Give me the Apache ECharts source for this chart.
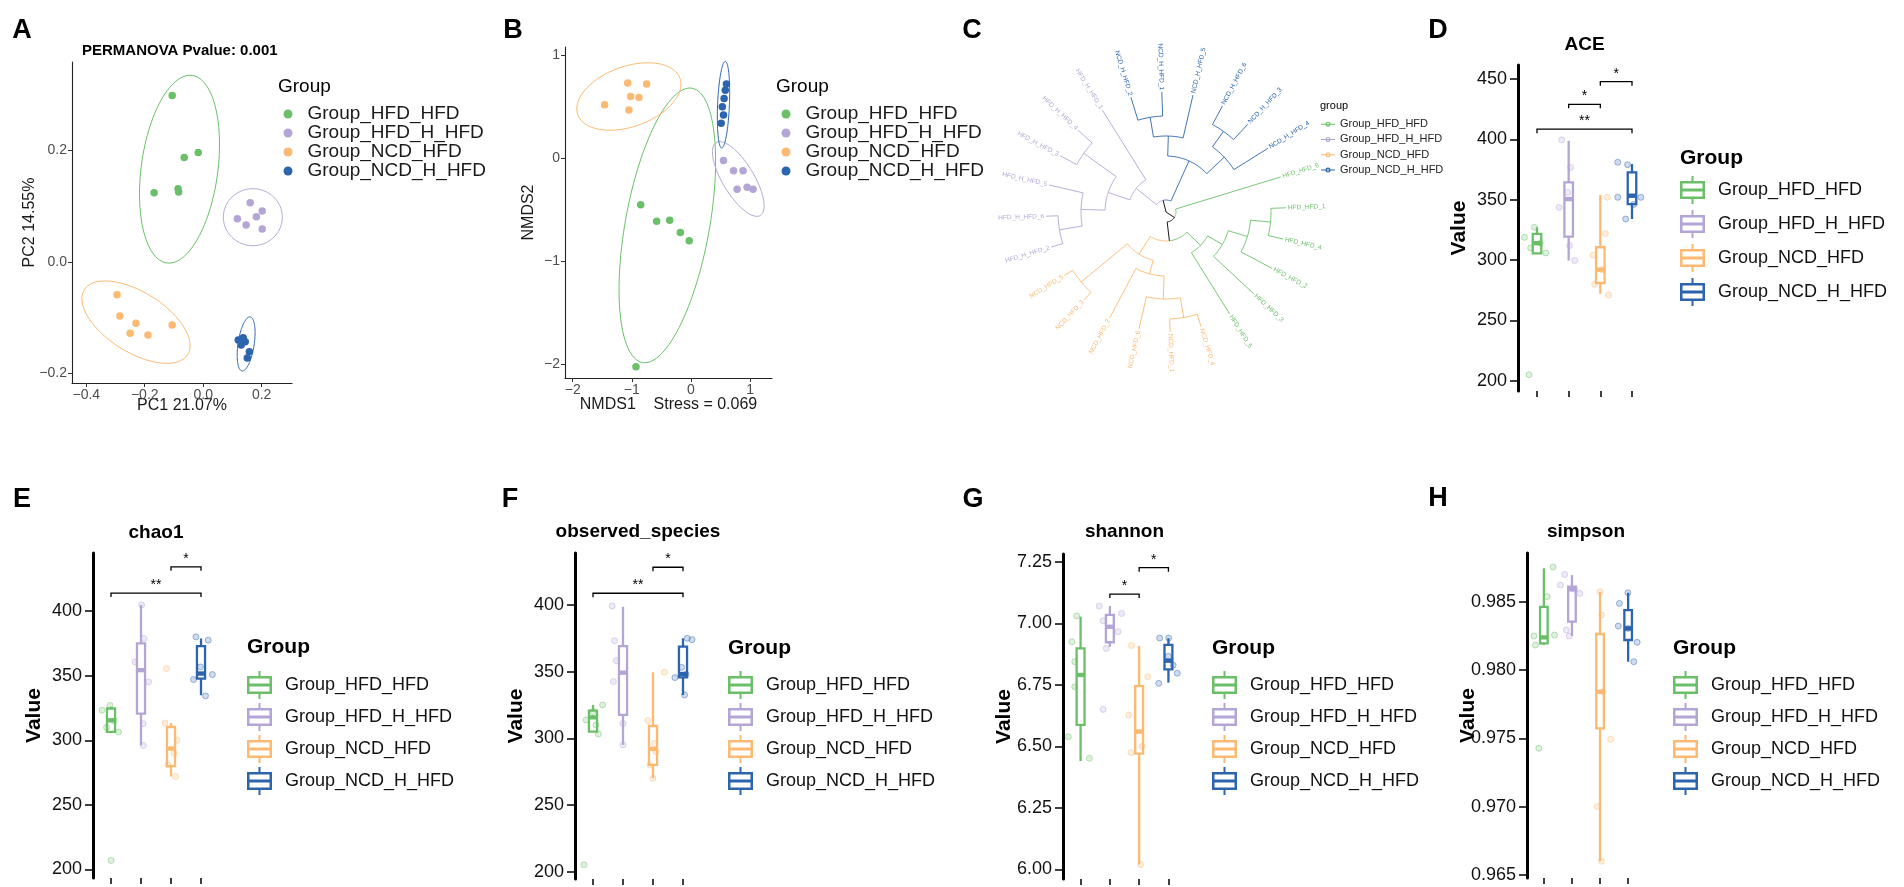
<!DOCTYPE html>
<html><head><meta charset="utf-8">
<script src="https://cdn.jsdelivr.net/npm/echarts@6/dist/echarts.min.js"></script>
<style>html,body{margin:0;padding:0;background:#fff}#c{width:1904px;height:887px}</style>
</head><body><div id="c"></div>
<script>
const FONT = "'Liberation Sans', Arial, Helvetica, sans-serif";
const groups = ['Group_HFD_HFD', 'Group_HFD_H_HFD', 'Group_NCD_HFD', 'Group_NCD_H_HFD'];
const groupColors = ['#6bbf69', '#b3a5d5', '#fbb971', '#2c64ad'];

// ---- A: PCoA ----
const pcoaHFD_HFD = [[-0.106, 0.298], [-0.017, 0.196], [-0.065, 0.187], [-0.086, 0.131], [-0.084, 0.125], [-0.168, 0.124]];
const pcoaHFD_H_HFD = [[0.161, 0.106], [0.202, 0.091], [0.182, 0.081], [0.147, 0.066], [0.202, 0.059], [0.117, 0.077]];
const pcoaNCD_HFD = [[-0.295, -0.059], [-0.285, -0.097], [-0.230, -0.110], [-0.250, -0.128], [-0.189, -0.131], [-0.106, -0.113]];
const pcoaNCD_H_HFD = [[0.120, -0.140], [0.137, -0.136], [0.144, -0.143], [0.158, -0.161], [0.151, -0.172], [0.130, -0.149]];
// ellipse: centre x, centre y, semi-diameter 1 (dx, dy), semi-diameter 2 (dx, dy)
const pcoaEllipses = [
  [-0.081, 0.166, 0.043, 0.168, 0.130, -0.009],
  [0.170, 0.080, 0.101, 0, 0, 0.051],
  [-0.230, -0.108, 0.177, -0.058, -0.0545, -0.0456],
  [0.147, -0.147, 0.0137, 0.0484, 0.0274, -0.0018]
];
const pcoaXTicks = [-0.4, -0.2, 0.0, 0.2];
const pcoaYTicks = [-0.2, 0.0, 0.2];

// ---- B: NMDS ----
const nmdsHFD_HFD = [[-0.85, -0.45], [-0.58, -0.61], [-0.36, -0.60], [-0.18, -0.72], [-0.03, -0.80], [-0.93, -2.02]];
const nmdsHFD_H_HFD = [[0.55, -0.02], [0.72, -0.12], [0.88, -0.12], [0.95, -0.28], [0.78, -0.30], [1.05, -0.30]];
const nmdsNCD_HFD = [[-1.07, 0.73], [-0.75, 0.72], [-0.88, 0.59], [-1.46, 0.52], [-1.05, 0.47], [-1.02, 0.60]];
const nmdsNCD_H_HFD = [[0.58, 0.66], [0.56, 0.58], [0.53, 0.50], [0.55, 0.42], [0.51, 0.34], [0.60, 0.72]];
const nmdsEllipses = [
  [-0.40, -0.65, 0.42, 1.33, 0.70, -0.073],
  [0.80, -0.20, 0.42, -0.32, 0.12, 0.17],
  [-1.05, 0.60, 0.88, 0.13, -0.03, 0.30],
  [0.55, 0.52, 0.03, 0.42, 0.10, 0.0]
];
const nmdsTicks = [-2, -1, 0, 1];

// ---- C: clustering tree ----
const treeLeafNames = ['HFD_H_HFD_2', 'HFD_H_HFD_6', 'HFD_H_HFD_5', 'HFD_H_HFD_3', 'HFD_H_HFD_4', 'HFD_H_HFD_1',
  'NCD_H_HFD_2', 'NCD_H_HFD_1', 'NCD_H_HFD_5', 'NCD_H_HFD_6', 'NCD_H_HFD_3', 'NCD_H_HFD_4',
  'HFD_HFD_6', 'HFD_HFD_1', 'HFD_HFD_4', 'HFD_HFD_2', 'HFD_HFD_3', 'HFD_HFD_5',
  'NCD_HFD_4', 'NCD_HFD_1', 'NCD_HFD_6', 'NCD_HFD_2', 'NCD_HFD_3', 'NCD_HFD_5'];
const treeLeafGroups = [1, 1, 1, 1, 1, 1, 3, 3, 3, 3, 3, 3, 0, 0, 0, 0, 0, 0, 2, 2, 2, 2, 2, 2];
const treeTipDepth = 120;
// [left, right, node depth]; numbers are leaf indices
const treeTopology = [
  [
    [[[[0, 1, 108], 2, 85], [3, 4, 101], 61], 5, 38],
    [[[6, 7, 96], 8, 76], [[9, 10, 99], 11, 80], 56],
    12
  ],
  [
    12,
    [
      [[[[13, 14, 105], 15, 85], 16, 65], 17, 48],
      [[[[18, 19, 107], 20, 87], 21, 64], [22, 23, 110], 50],
      29
    ],
    10
  ],
  0
];

// ---- D: ACE ----
const aceBox = [[305.5, 305.6, 314, 321.6, 327.1], [299.6, 319.4, 350.5, 364.3, 398.8], [272, 281, 292, 310.6, 354], [334, 346.4, 353.3, 372.6, 379.5]];
const acePoints = [[327.1, 318.8, 314, 310, 305.9, 205], [399.6, 376.7, 356, 343.6, 312, 299.6], [352, 322, 304, 292, 280, 271], [381, 379, 352, 352, 346, 334]];
const aceJitter = [[-0.08, -0.4, 0.1, -0.2, 0.28, -0.25], [-0.22, 0.06, -0.03, -0.3, 0.03, 0.19], [0.22, 0.16, -0.23, 0.05, -0.18, 0.26], [-0.45, -0.14, -0.45, 0.28, 0.05, -0.2]];
const aceSig = [[1, 4, 408.4, '**'], [2, 3, 429, '*'], [3, 4, 447.8, '*']];
const aceTicks = [200, 250, 300, 350, 400, 450];

// ---- E: chao1 ----
const chao1Box = [[306.5, 306.5, 315.5, 324.6, 326], [296.1, 320.7, 354.3, 375, 404.7], [272, 280, 293.6, 310.3, 313.4], [334.9, 347.8, 351.7, 372.9, 378.8]];
const chao1Points = [[327, 323.3, 315, 310, 306.4, 207], [404.7, 378.8, 360.7, 345.2, 312.9, 296], [355.6, 313.4, 300, 290, 281, 272], [380.1, 377.5, 356.8, 350.9, 347, 334.4]];
const chao1Jitter = [[-0.03, -0.3, 0.1, -0.15, 0.25, 0.0], [0.02, 0.1, -0.2, 0.25, 0.07, 0.08], [-0.15, -0.2, 0.2, 0.1, -0.1, 0.15], [-0.17, 0.24, -0.02, 0.38, -0.25, 0.15]];
const chao1Sig = [[1, 4, 414, '**'], [3, 4, 434.3, '*']];
const chao1Ticks = [200, 250, 300, 350, 400];

// ---- F: observed_species ----
const observedBox = [[305, 305, 315.7, 320.7, 325], [295, 317.5, 349.2, 369.2, 398.7], [270, 280, 292, 309.2, 349.5], [332.5, 345.7, 348.2, 368.7, 375]];
const observedPoints = [[325, 320, 313.7, 310, 303.2, 205], [399.3, 373.2, 358.2, 342.5, 311.2, 295], [349.5, 313.2, 296, 290, 280, 270], [375, 374, 353.2, 345.5, 348, 332.5]];
const observedJitter = [[0.32, 0.0, -0.23, 0.1, 0.18, -0.3], [-0.36, -0.28, -0.22, -0.32, 0.0, 0.0], [0.38, -0.17, 0.05, 0.1, -0.1, 0.0], [0.14, 0.3, -0.05, -0.27, 0.1, 0.05]];
const observedSig = [[1, 4, 408.8, '**'], [3, 4, 428.3, '*']];
const observedTicks = [200, 250, 300, 350, 400];

// ---- G: shannon ----
const shannonBox = [[6.44, 6.587, 6.79, 6.898, 7.027], [6.905, 6.923, 6.986, 7.034, 7.07], [6.02, 6.47, 6.56, 6.745, 6.908], [6.759, 6.813, 6.848, 6.912, 6.939]];
const shannonPoints = [[7.03, 6.925, 6.844, 6.742, 6.539, 6.451], [7.07, 7.04, 7.01, 6.966, 6.898, 6.65], [6.91, 6.783, 6.627, 6.5, 6.474, 6.02], [6.94, 6.94, 6.866, 6.83, 6.797, 6.756]];
const shannonJitter = [[-0.13, -0.3, -0.2, -0.2, -0.42, 0.3], [-0.36, 0.4, -0.23, 0.28, -0.12, -0.23], [-0.26, 0.29, -0.35, 0.1, -0.28, 0.05], [-0.3, 0.01, 0.0, 0.16, 0.3, -0.33]];
const shannonSig = [[2, 3, 7.119, '*'], [3, 4, 7.226, '*']];
const shannonTicks = [6.00, 6.25, 6.50, 6.75, 7.00, 7.25];

// ---- H: simpson ----
const simpsonBox = [[0.98183, 0.98195, 0.98239, 0.98463, 0.98745], [0.98249, 0.98354, 0.98591, 0.9861, 0.98695], [0.9660, 0.97573, 0.97841, 0.98264, 0.98573], [0.98061, 0.9822, 0.98305, 0.98439, 0.98566]];
const simpsonPoints = [[0.98754, 0.98537, 0.98256, 0.98249, 0.98183, 0.97427], [0.98700, 0.98622, 0.98561, 0.98293, 0.98249, 0.98591], [0.98573, 0.98403, 0.97841, 0.97493, 0.9700, 0.9660], [0.98566, 0.98488, 0.98322, 0.98305, 0.98203, 0.98061]];
const simpsonJitter = [[0.33, 0.12, 0.38, -0.35, -0.3, -0.18], [-0.26, -0.41, 0.28, -0.2, -0.1, 0.1], [0.0, 0.06, 0.1, 0.38, -0.1, 0.05], [-0.01, -0.31, -0.35, 0.0, 0.32, 0.2]];
const simpsonSig = [];
const simpsonTicks = [0.965, 0.970, 0.975, 0.980, 0.985];

// ================= build =================
function rgba(hex, a) {
  const n = parseInt(hex.slice(1), 16);
  return 'rgba(' + ((n >> 16) & 255) + ',' + ((n >> 8) & 255) + ',' + (n & 255) + ',' + a + ')';
}
const minus = s => s.replace('-', '\u2212');

const grids = [], xAxes = [], yAxes = [], series = [];
function addGrid(left, top, width, height) {
  grids.push({ left, top, width, height, containLabel: false, outerBoundsMode: 'none' });
  return grids.length - 1;
}

function thinAxis(gridIndex, min, max, ticks, fmt, name, nameGap) {
  return {
    gridIndex, type: 'value', min, max, name, nameLocation: 'middle', nameGap, nameMoveOverlap: false,
    nameTextStyle: { fontSize: 16, color: '#1a1a1a', fontFamily: FONT },
    axisLine: { show: true, onZero: false, lineStyle: { color: '#222', width: 1.1 } },
    axisTick: { show: true, customValues: ticks, length: 4, lineStyle: { color: '#333', width: 1 } },
    axisLabel: { show: true, customValues: ticks, formatter: fmt, color: '#4d4d4d', fontSize: 14, fontFamily: FONT, margin: 5 },
    splitLine: { show: false }
  };
}

function ellipseRenderer(color) {
  return function (params, api) {
    const v = [0, 1, 2, 3, 4, 5].map(i => api.value(i));
    const pts = [];
    for (let i = 0; i <= 120; i++) {
      const t = i / 120 * Math.PI * 2;
      pts.push(api.coord([v[0] + v[2] * Math.cos(t) + v[4] * Math.sin(t), v[1] + v[3] * Math.cos(t) + v[5] * Math.sin(t)]));
    }
    return { type: 'polyline', shape: { points: pts }, style: { stroke: color, fill: null, lineWidth: 1 } };
  };
}

function addScatterPanel(gi, pointsList, ellipses) {
  pointsList.forEach((pts, k) => {
    series.push({ type: 'custom', name: groups[k], xAxisIndex: gi, yAxisIndex: gi, data: [ellipses[k]],
      encode: { x: 0, y: 1 }, renderItem: ellipseRenderer(groupColors[k]), z: 1, silent: true });
    series.push({ type: 'scatter', name: groups[k], xAxisIndex: gi, yAxisIndex: gi, data: pts,
      symbolSize: 7.5, itemStyle: { color: groupColors[k], opacity: 1 }, z: 2 });
  });
}

// A
const gA = addGrid(72, 62, 220, 321);
xAxes.push(thinAxis(gA, -0.449, 0.304, pcoaXTicks, v => minus(v.toFixed(1)), 'PC1 21.07%', 15));
yAxes.push(thinAxis(gA, -0.217, 0.358, pcoaYTicks, v => minus(v.toFixed(1)), 'PC2 14.55%', 34));
addScatterPanel(gA, [pcoaHFD_HFD, pcoaHFD_H_HFD, pcoaNCD_HFD, pcoaNCD_H_HFD], pcoaEllipses);

// B
const gB = addGrid(565, 47, 207, 331);
xAxes.push(thinAxis(gB, -2.13, 1.37, nmdsTicks, v => minus(String(v)), 'NMDS1    Stress = 0.069', 19));
yAxes.push(thinAxis(gB, -2.13, 1.08, nmdsTicks, v => minus(String(v)), 'NMDS2', 28));
addScatterPanel(gB, [nmdsHFD_HFD, nmdsHFD_H_HFD, nmdsNCD_HFD, nmdsNCD_H_HFD], nmdsEllipses);

// box panels
function boxRenderer(color) {
  return function (params, api) {
    const x = api.value(0);
    const p = [1, 2, 3, 4, 5].map(i => api.coord([x, api.value(i)]));
    const hw = api.size([0.27, 0])[0] / 2;
    const lw = 2.3;
    return { type: 'group', children: [
      { type: 'line', shape: { x1: p[0][0], y1: p[0][1], x2: p[1][0], y2: p[1][1] }, style: { stroke: color, lineWidth: lw } },
      { type: 'line', shape: { x1: p[3][0], y1: p[3][1], x2: p[4][0], y2: p[4][1] }, style: { stroke: color, lineWidth: lw } },
      { type: 'rect', shape: { x: p[3][0] - hw, y: p[3][1], width: 2 * hw, height: p[1][1] - p[3][1] }, style: { fill: '#fff', stroke: color, lineWidth: lw } },
      { type: 'line', shape: { x1: p[2][0] - hw, y1: p[2][1], x2: p[2][0] + hw, y2: p[2][1] }, style: { stroke: color, lineWidth: lw * 1.9 } }
    ] };
  };
}

function addBoxPanel(rect, min, max, ticks, fmt, box, pts, jit, sig) {
  const g = addGrid(rect[0], rect[1], rect[2], rect[3]);
  xAxes.push({ gridIndex: g, type: 'value', min: 0.4, max: 4.6,
    axisLine: { show: false, onZero: false }, splitLine: { show: false }, axisLabel: { show: false },
    axisTick: { show: true, customValues: [1, 2, 3, 4], length: 6, lineStyle: { color: '#000', width: 1.5 } } });
  yAxes.push({ gridIndex: g, type: 'value', min, max, name: 'Value', nameLocation: 'middle', nameGap: 48, nameMoveOverlap: false,
    nameTextStyle: { fontSize: 21, fontWeight: 'bold', color: '#000', fontFamily: FONT },
    axisLine: { show: true, onZero: false, lineStyle: { color: '#000', width: 3 } },
    axisTick: { show: true, customValues: ticks, length: 8, lineStyle: { color: '#000', width: 1.5 } },
    axisLabel: { show: true, customValues: ticks, formatter: fmt, color: '#111', fontSize: 18, fontFamily: FONT, margin: 11 },
    splitLine: { show: false } });
  const ai = xAxes.length - 1;
  groups.forEach((name, k) => {
    series.push({ type: 'custom', name, xAxisIndex: ai, yAxisIndex: ai, data: [[k + 1].concat(box[k])],
      encode: { x: 0, y: [1, 2, 3, 4, 5] }, renderItem: boxRenderer(groupColors[k]), z: 2, silent: true });
    series.push({ type: 'scatter', name, xAxisIndex: ai, yAxisIndex: ai,
      data: pts[k].map((v, j) => [k + 1 + jit[k][j], v]), symbolSize: 6,
      itemStyle: { color: rgba(groupColors[k], 0.28), borderColor: rgba(groupColors[k], 0.55), borderWidth: 1 }, z: 3 });
  });
  if (sig.length) {
    series.push({ type: 'custom', xAxisIndex: ai, yAxisIndex: ai, data: sig.map(s => [s[0], s[2]]), encode: { x: 0, y: 1 }, z: 4, silent: true,
      renderItem: function (params, api) {
        const s = sig[params.dataIndex];
        const p1 = api.coord([s[0], s[2]]), p2 = api.coord([s[1], s[2]]);
        return { type: 'group', children: [
          { type: 'polyline', shape: { points: [[p1[0], p1[1] + 4], [p1[0], p1[1]], [p2[0], p2[1]], [p2[0], p2[1] + 4]] }, style: { stroke: '#000', lineWidth: 1.3, fill: null } },
          { type: 'text', x: (p1[0] + p2[0]) / 2, y: p1[1] - 1, style: { text: s[3], font: '14px ' + FONT, fill: '#000', align: 'center', verticalAlign: 'bottom' } }
        ] };
      } });
  }
}

addBoxPanel([1518, 65, 133, 326], 191.5, 461.6, aceTicks, v => String(v), aceBox, acePoints, aceJitter, aceSig);
addBoxPanel([93, 553, 126, 325], 193.4, 445, chao1Ticks, v => String(v), chao1Box, chao1Points, chao1Jitter, chao1Sig);
addBoxPanel([575, 553, 126, 326], 194.4, 439, observedTicks, v => String(v), observedBox, observedPoints, observedJitter, observedSig);
addBoxPanel([1063, 554, 123, 325], 5.9606, 7.2817, shannonTicks, v => v.toFixed(2), shannonBox, shannonPoints, shannonJitter, shannonSig);
addBoxPanel([1527, 553, 118, 325], 0.964773, 0.98857, simpsonTicks, v => v.toFixed(3), simpsonBox, simpsonPoints, simpsonJitter, simpsonSig);

// tree
const treeSegs = [[], [], [], [], []]; // 0..3 groups, 4 = mixed
function layoutTree(node) {
  if (typeof node === 'number') return { angle: node, depth: treeTipDepth, group: treeLeafGroups[node] };
  const l = layoutTree(node[0]), r = layoutTree(node[1]);
  const me = { angle: (l.angle + r.angle) / 2, depth: node[2], group: l.group === r.group ? l.group : 4 };
  [l, r].forEach(c => {
    const bucket = treeSegs[c.group];
    bucket.push([me.depth, c.angle, c.depth, c.angle]);
    bucket.push([me.depth, me.angle, me.depth, c.angle]);
  });
  return me;
}
layoutTree(treeTopology);
function treeRenderer(color) {
  return function (params, api) {
    const r1 = api.value(0), a1 = api.value(1), r2 = api.value(2), a2 = api.value(3);
    const pts = [];
    if (a1 === a2) { pts.push(api.coord([r1, a1]), api.coord([r2, a2])); }
    else {
      const n = Math.max(2, Math.ceil(Math.abs(a2 - a1) * 8));
      for (let i = 0; i <= n; i++) pts.push(api.coord([r1, a1 + (a2 - a1) * i / n]));
    }
    return { type: 'polyline', shape: { points: pts }, style: { stroke: color, lineWidth: 0.9, fill: null } };
  };
}
treeSegs.forEach((segs, k) => {
  series.push({ type: 'custom', name: k < 4 ? groups[k] : 'root', coordinateSystem: 'polar', polarIndex: 0,
    data: segs, encode: { radius: 0, angle: 1 }, renderItem: treeRenderer(k < 4 ? groupColors[k] : '#000'), silent: true });
});
series.push({ type: 'custom', name: 'tiplab', coordinateSystem: 'polar', polarIndex: 0,
  data: treeLeafNames.map((n, i) => [treeTipDepth, i]), encode: { radius: 0, angle: 1 }, silent: true,
  renderItem: function (params, api) {
    const r = api.value(0), a = api.value(1);
    const c = api.coord([0, a]), t = api.coord([r + 2, a]);
    const th = Math.atan2(c[1] - t[1], t[0] - c[0]);
    const left = Math.cos(th) < 0;
    return { type: 'text', x: t[0], y: t[1], rotation: left ? th - Math.PI : th,
      style: { text: treeLeafNames[params.dataIndex], fill: groupColors[treeLeafGroups[params.dataIndex]], font: '6.5px ' + FONT, align: left ? 'right' : 'left', verticalAlign: 'middle' } };
  } });

// legends
const boxIcon = 'path://M11.5 0L13.5 0L13.5 5L11.5 5Z M0 5L25 5L25 23L0 23Z M2.5 7.5L2.5 12.5L22.5 12.5L22.5 7.5Z M2.5 15.5L2.5 20.5L22.5 20.5L22.5 15.5Z M11.5 23L13.5 23L13.5 28L11.5 28Z';
const treeIcon = 'path://M0 4.5L14 4.5L14 5.5L0 5.5Z M4.5 5A2.5 2.5 0 1 1 9.5 5A2.5 2.5 0 1 1 4.5 5Z M5.6 5A1.4 1.4 0 1 0 8.4 5A1.4 1.4 0 1 0 5.6 5Z';
function legendData(icon) {
  return groups.map((g, k) => ({ name: g, icon, itemStyle: { color: groupColors[k], borderWidth: 0, opacity: 1 } }));
}
const legends = [];
function dotLegend(left, top) {
  legends.push({ left, top, orient: 'vertical', padding: 0, itemGap: 0, itemWidth: 9, itemHeight: 9, selectedMode: false,
    data: legendData('circle'), textStyle: { fontSize: 19, lineHeight: 17, color: '#1a1a1a', fontFamily: FONT, padding: [0, 0, 0, 10] } });
}
dotLegend(283.5, 104.5);
dotLegend(781.5, 104.5);
legends.push({ left: 1321, top: 116.5, orient: 'vertical', padding: 0, itemGap: 0, itemWidth: 14, itemHeight: 10, selectedMode: false,
  data: legendData(treeIcon), textStyle: { fontSize: 11, lineHeight: 15.3, color: '#222', fontFamily: FONT } });
function boxLegend(left, top, gap) {
  legends.push({ left, top, orient: 'vertical', padding: 0, itemGap: gap, itemWidth: 25, itemHeight: 28, selectedMode: false,
    symbolKeepAspect: false, data: legendData(boxIcon), textStyle: { fontSize: 18, color: '#111', fontFamily: FONT, padding: [0, 0, 0, 8] } });
}
boxLegend(1680, 176, 6);
boxLegend(247, 671, 4);
boxLegend(728, 671, 4);
boxLegend(1212, 671, 4);
boxLegend(1673, 671, 4);

// texts
const texts = [];
function txt(text, x, y, font, align) {
  texts.push({ type: 'text', x, y, silent: true, style: { text, font: font + ' ' + FONT, fill: '#000', align: align || 'center', verticalAlign: 'middle' } });
}
[['A', 22, 31], ['B', 513, 31], ['C', 972, 31], ['D', 1438, 31], ['E', 22, 500], ['F', 510, 500], ['G', 973, 500], ['H', 1438, 499]]
  .forEach(l => txt(l[0], l[1], l[2], 'bold 27px'));
txt('PERMANOVA Pvalue: 0.001', 82, 51, 'bold 15px', 'left');
txt('ACE', 1584.5, 45, 'bold 19px');
txt('chao1', 156, 533, 'bold 19px');
txt('observed_species', 638, 532, 'bold 19px');
txt('shannon', 1124.5, 532, 'bold 19px');
txt('simpson', 1586, 532, 'bold 19px');
txt('Group', 278, 87, '19px', 'left');
txt('Group', 776, 87, '19px', 'left');
txt('group', 1320, 106, '11px', 'left');
txt('Group', 1680, 158, 'bold 21px', 'left');
txt('Group', 247, 647, 'bold 21px', 'left');
txt('Group', 728, 648, 'bold 21px', 'left');
txt('Group', 1212, 648, 'bold 21px', 'left');
txt('Group', 1673, 648, 'bold 21px', 'left');

const option = {
  animation: false,
  backgroundColor: '#fff',
  textStyle: { fontFamily: FONT },
  grid: grids, xAxis: xAxes, yAxis: yAxes,
  polar: [{ center: [1166, 212], radius: 125 }],
  angleAxis: [{ polarIndex: 0, type: 'value', min: 0, max: 24, startAngle: 197, clockwise: true,
    axisLine: { show: false }, axisTick: { show: false }, axisLabel: { show: false }, splitLine: { show: false } }],
  radiusAxis: [{ polarIndex: 0, type: 'value', min: 0, max: 125,
    axisLine: { show: false }, axisTick: { show: false }, axisLabel: { show: false }, splitLine: { show: false } }],
  legend: legends,
  graphic: { elements: texts },
  series
};
const chart = echarts.init(document.getElementById('c'), null, { renderer: 'canvas' });
chart.setOption(option);
</script></body></html>
